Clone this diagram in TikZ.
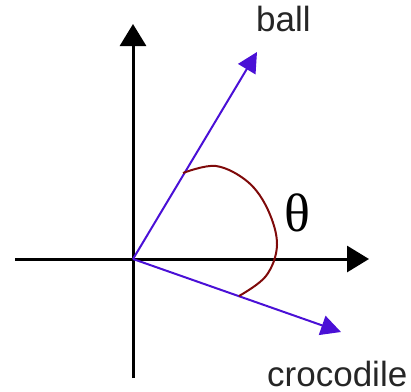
\documentclass[tikz,border=0pt]{standalone}
\usepackage{fontspec}
\setmainfont{Liberation Sans}
\newfontfamily\thetafont{Liberation Serif}
\usetikzlibrary{arrows.meta}
\definecolor{vec}{HTML}{4A10D6}
\definecolor{arcred}{HTML}{7F0A0A}
\tikzset{
  axis/.style={line width=3pt,-{Triangle[length=22pt,width=26pt]}},
  vector/.style={vec,line width=2pt,-{Triangle[length=20pt,width=20pt]}},
  anglearc/.style={arcred,line width=2pt},
  lbl/.style={font=\fontsize{35}{40}\selectfont,text=black!85,inner sep=0pt}
}
\begin{document}
\begin{tikzpicture}[x=1pt,y=-1pt]
\useasboundingbox (0,0) rectangle (411,391);
\coordinate (O) at (133,259);
\coordinate (xl) at (15,259);
\coordinate (xr) at (369,259);
\coordinate (yt) at (133,24);
\coordinate (yb) at (133,378);
\coordinate (B) at (257,52);
\coordinate (C) at (341,332);
\draw[line width=3pt] (xl) -- (O);
\draw[axis] (O) -- (xr);
\draw[line width=3pt] (yb) -- (O);
\draw[axis] (O) -- (yt);
\draw[vector] (O) -- (B);
\draw[vector] (O) -- (C);
\draw[anglearc] plot[smooth,tension=0.6] coordinates {(183,173) (216,166) (248,182) (268,210) (277,245) (266,276) (239,296)};
\node[lbl,anchor=base west] (ball) at (256,31) {ball};
\node[lbl,anchor=base west] (croc) at (267,386) {crocodile};
\node[inner sep=0pt,font=\thetafont\fontsize{54}{60}\selectfont] (theta) at (297,213) {θ};
\end{tikzpicture}
\end{document}
